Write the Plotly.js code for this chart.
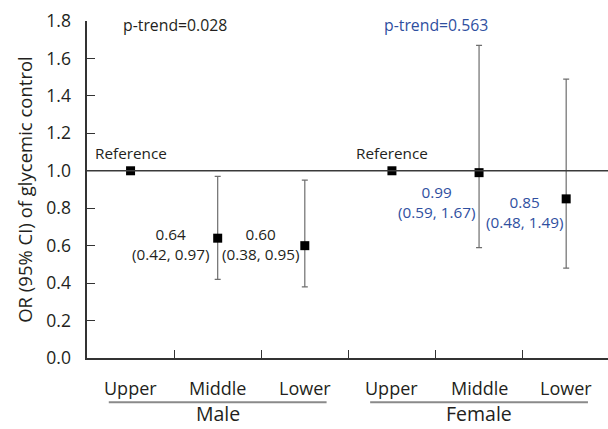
<!DOCTYPE html>
<html>
<head>
<meta charset="utf-8">
<script src="https://cdn.plot.ly/plotly-3.0.1.min.js"></script>
<style>html,body{margin:0;padding:0;background:#fff;}#chart{width:608px;height:429px;}</style>
</head>
<body>
<div id="chart"></div>
<script>
// ---- data ----
const categories = ["Upper", "Middle", "Lower", "Upper", "Middle", "Lower"];
const groups = ["Male", "Female"];
const groupOf = [0, 0, 0, 1, 1, 1];
const orValues = [1.00, 0.64, 0.60, 1.00, 0.99, 0.85];
const ciLow = [null, 0.42, 0.38, null, 0.59, 0.48];
const ciHigh = [null, 0.97, 0.95, null, 1.67, 1.49];
const pTrend = ["0.028", "0.563"];
const yTicks = [0, 0.2, 0.4, 0.6, 0.8, 1.0, 1.2, 1.4, 1.6, 1.8];
const refValue = 1.0;

const FONT = "Open Sans, Noto Sans, sans-serif";
const BLUE = "#2f4f9f";
const TXT = "#231f20";
const groupColor = [TXT, BLUE];

const xs = categories.map((_, i) => i);
const trace = {
  type: "scatter", mode: "markers",
  x: xs, y: orValues,
  marker: { symbol: "square", size: 9, color: "#000" },
  error_y: {
    type: "data", symmetric: false,
    array: orValues.map((v, i) => ciHigh[i] == null ? 0 : ciHigh[i] - v),
    arrayminus: orValues.map((v, i) => ciLow[i] == null ? 0 : v - ciLow[i]),
    color: "#6e6e6e", thickness: 1.2, width: 3
  },
  hoverinfo: "skip", showlegend: false
};

const annotations = [];
// category labels
categories.forEach((c, i) => annotations.push({
  x: i, y: -0.088, xref: "x", yref: "paper", text: c, showarrow: false,
  yanchor: "middle", font: { family: FONT, size: 18, color: TXT }
}));
// group labels
groups.forEach((g, gi) => {
  const idx = xs.filter(i => groupOf[i] === gi);
  const mid = (idx[0] + idx[idx.length - 1]) / 2;
  annotations.push({
    x: mid, y: -0.2105, xref: "x", yref: "paper", text: g, showarrow: false,
    yanchor: "bottom", font: { family: FONT, size: 19.5, color: TXT }
  });
  annotations.push({
    x: idx[0] + 0.51, y: 1.78, xref: "x", yref: "y", text: "p-trend=" + pTrend[gi],
    showarrow: false, yanchor: "middle", font: { family: FONT, size: 15.8, color: groupColor[gi] }
  });
});
// value labels
const labelPos = [
  { dx: 0, y: 1.095 }, { dx: -0.54, y: 0.61 }, { dx: -0.51, y: 0.61 },
  { dx: 0, y: 1.095 }, { dx: -0.49, y: 0.833 }, { dx: -0.48, y: 0.78 }
];
orValues.forEach((v, i) => {
  const txt = ciLow[i] == null ? "Reference"
    : v.toFixed(2) + "<br>(" + ciLow[i].toFixed(2) + ", " + ciHigh[i].toFixed(2) + ")";
  const col = ciLow[i] == null ? TXT : groupColor[groupOf[i]];
  annotations.push({
    x: i + labelPos[i].dx, y: labelPos[i].y, xref: "x", yref: "y", text: txt,
    showarrow: false, yanchor: "middle", align: "center",
    font: { family: FONT, size: 15.3, color: col }
  });
});

const shapes = [
  { type: "line", xref: "paper", yref: "y", x0: 0, x1: 1, y0: refValue, y1: refValue,
    line: { color: "#3a3a3a", width: 1.6 } }
];
groups.forEach((g, gi) => {
  const idx = xs.filter(i => groupOf[i] === gi);
  shapes.push({
    type: "line", xref: "x", yref: "paper",
    x0: idx[0] - 0.25, x1: idx[idx.length - 1] + 0.25, y0: -0.131, y1: -0.131,
    line: { color: "#8a8a8a", width: 2 }
  });
});

const layout = {
  width: 608, height: 429,
  margin: { l: 87, r: 0, t: 21, b: 71 },
  paper_bgcolor: "#fff", plot_bgcolor: "#fff",
  font: { family: FONT, color: TXT },
  xaxis: {
    range: [-0.5, 5.48], showgrid: false, zeroline: false,
    tickvals: xs.map(i => i + 0.5), showticklabels: false,
    ticks: "inside", ticklen: 8, tickcolor: "#333", tickwidth: 1.2,
    showline: true, linecolor: "#333", linewidth: 1.6, fixedrange: true
  },
  yaxis: {
    range: [0, 1.8], showgrid: false, zeroline: false,
    tickvals: yTicks, ticktext: yTicks.map(v => v.toFixed(1)),
    ticks: "inside", ticklen: 8, tickcolor: "#333", tickwidth: 1.2,
    ticklabelstandoff: 11,
    tickfont: { family: FONT, size: 17.5, color: TXT },
    showline: true, linecolor: "#333", linewidth: 1.6,
    title: { text: "OR (95% CI) of glycemic control", font: { family: FONT, size: 18.5, color: TXT }, standoff: 9 },
    fixedrange: true
  },
  annotations: annotations,
  shapes: shapes,
  showlegend: false
};

Plotly.newPlot("chart", [trace], layout, { staticPlot: true, displayModeBar: false });
</script>
</body>
</html>
